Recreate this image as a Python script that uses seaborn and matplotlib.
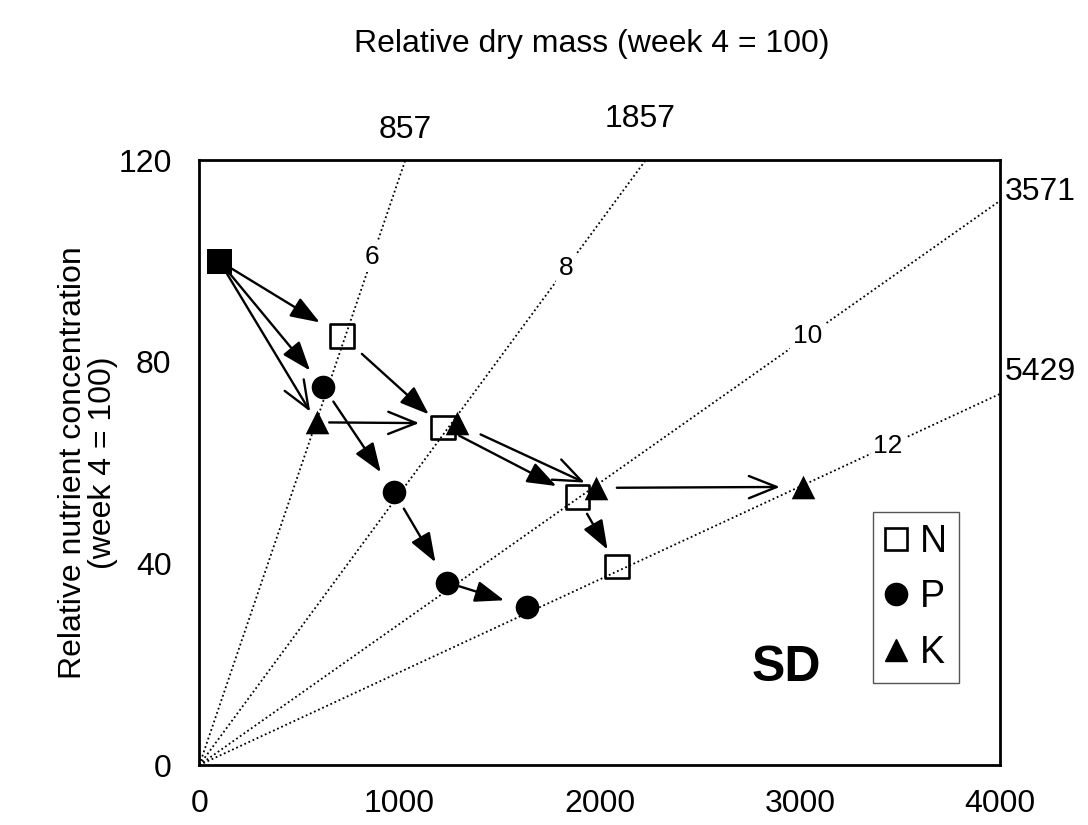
import numpy as np
import pandas as pd
import matplotlib
matplotlib.use('Agg')
import matplotlib.pyplot as plt
import seaborn as sns
from matplotlib.lines import Line2D

# relative nutrient content (x) and concentration (y), weeks 4, 6, 8, 10, 12
n_content = [100, 714, 1218, 1888, 2087]
n_conc = [100, 85.1, 67.0, 53.2, 39.4]
p_content = [100, 619, 972, 1239, 1635]
p_conc = [100, 75.1, 54.2, 36.2, 31.3]
k_content = [100, 586, 1285, 1981, 3017]
k_conc = [100, 68.0, 67.8, 55.0, 55.2]

# relative dry mass isolines and the week they belong to
dry_mass = [857, 1857, 3571, 5429]
weeks = ['6', '8', '10', '12']

sns.set_style('white')
plt.rcParams['font.family'] = ['Liberation Sans', 'DejaVu Sans']
plt.rcParams['text.color'] = 'black'
plt.rcParams['axes.labelcolor'] = 'black'

fig = plt.figure(figsize=(10.88, 8.25), dpi=100)
ax = fig.add_axes([0.1832, 0.0727, 0.7362, 0.733])

#isolines of dry mass: conc = 100 * content / mass
xx = np.array([0, 6000])
for m in dry_mass:
    ax.plot(xx, 100 * xx / m, color='black', lw=1.3, ls=(0, (1, 1.5)), zorder=1)

# week labels sitting on the lines
week_x = [864, 1830, 3038, 3440]
for m, w, wx in zip(dry_mass, weeks, week_x):
    ax.text(wx, 100 * wx / m, w, fontsize=19, ha='center', va='center',
            bbox=dict(facecolor='white', edgecolor='none', pad=2), zorder=2)

# dry mass labels outside the axes
outer_pos = [(1030, 126.0), (2200, 128.2), (4200, 113.8), (4200, 78.0)]
for m, (ox, oy) in zip(dry_mass, outer_pos):
    ax.text(ox, oy, str(m), fontsize=23, ha='center', va='center', clip_on=False)

# arrows between successive weeks
filled = '-|>,head_length=0.9,head_width=0.33'
openhead = '->,head_length=1.0,head_width=0.4'
series = [
    (n_content, n_conc, filled, [9, 19, 13, 14], [19, 14, 17, 14]),
    (p_content, p_conc, filled, [9, 13, 14, 9], [15, 17, 17, 17]),
    (k_content, k_conc, openhead, [9, 9, 19, 15], [9, 27, 9, 17]),
]
for xs, ys, style, sa, sb in series:
    for i in range(len(xs) - 1):
        ax.annotate('', xy=(xs[i + 1], ys[i + 1]), xytext=(xs[i], ys[i]),
                    arrowprops=dict(arrowstyle=style, color='black', lw=1.7,
                                    shrinkA=sa[i], shrinkB=sb[i], mutation_scale=20),
                    zorder=3)

# markers
sns.scatterplot(x=n_content[1:], y=n_conc[1:], marker='s', s=17**2, facecolor='none',
                edgecolor='black', linewidth=1.9, ax=ax, zorder=4)
sns.scatterplot(x=p_content[1:], y=p_conc[1:], marker='o', s=17**2, color='black',
                edgecolor='black', linewidth=0, ax=ax, zorder=4)
sns.scatterplot(x=k_content[1:], y=k_conc[1:], marker='^', s=17**2, color='black',
                edgecolor='black', linewidth=0, ax=ax, zorder=5)
sns.scatterplot(x=n_content[:1], y=n_conc[:1], marker='s', s=18**2, color='black',
                edgecolor='black', linewidth=0, ax=ax, zorder=5)

ax.set_xlim(0, 4000)
ax.set_ylim(0, 120)
ax.set_xticks([0, 1000, 2000, 3000, 4000])
ax.set_yticks([0, 40, 80, 120])
ax.tick_params(axis='both', labelsize=23, length=8, width=1, color='#888888',
               labelcolor='black', direction='out')
ax.tick_params(axis='x', pad=9)
ax.tick_params(axis='y', pad=12)
for s in ax.spines.values():
    s.set_linewidth(2)
    s.set_color('black')

ax.set_ylabel('Relative nutrient concentration\n(week 4 = 100)', fontsize=23, linespacing=1.0)
ax.yaxis.set_label_coords(-0.101, 0.5)
fig.text(592 / 1088, 1 - 44 / 825, 'Relative dry mass (week 4 = 100)', fontsize=23,
         ha='center', va='center')

ax.text(0.733, 0.16, 'SD', transform=ax.transAxes, fontsize=36, fontweight='bold',
        ha='center', va='center')

handles = [
    Line2D([], [], ls='none', marker='s', ms=16, mfc='none', mec='black', mew=1.9),
    Line2D([], [], ls='none', marker='o', ms=16, mfc='black', mec='black'),
    Line2D([], [], ls='none', marker='^', ms=16, mfc='black', mec='black'),
]
leg = ax.legend(handles, ['N', 'P', 'K'], loc='upper left', bbox_to_anchor=(0.8407, 0.4189),
                fontsize=27, frameon=True, fancybox=False, framealpha=1, borderpad=0.32,
                handlelength=0.6, handletextpad=0.35, labelspacing=0.52, borderaxespad=0)
leg.get_frame().set_edgecolor('#555555')
leg.get_frame().set_linewidth(1)

plt.savefig('out.png', dpi=100)
